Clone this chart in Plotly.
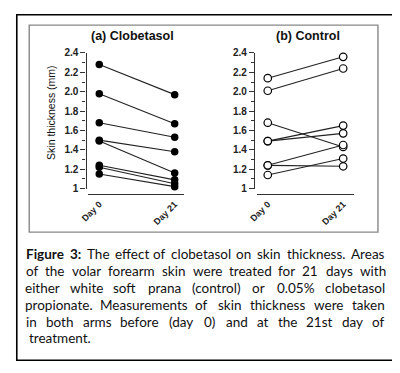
import plotly.graph_objects as go

# ---------------- data ----------------
days = ["Day 0", "Day 21"]
clob_day0 = [2.28, 1.98, 1.68, 1.50, 1.49, 1.24, 1.22, 1.15]
clob_day21 = [1.97, 1.67, 1.53, 1.38, 1.16, 1.09, 1.05, 1.02]
ctrl_day0 = [2.14, 2.01, 1.68, 1.49, 1.49, 1.24, 1.24, 1.14]
ctrl_day21 = [2.36, 2.24, 1.43, 1.65, 1.57, 1.45, 1.23, 1.31]
ytick_vals = [1, 1.2, 1.4, 1.6, 1.8, 2.0, 2.2, 2.4]
ytick_text = ["1", "1.2", "1.4", "1.6", "1.8", "2.0", "2.2", "2.4"]
caption_lines = [
    "<b>Figure</b> <b>3:</b> The effect of clobetasol on skin thickness. Areas",
    "of the volar forearm skin were treated for 21 days with",
    "either white soft prana (control) or 0.05% clobetasol",
    "propionate. Measurements of skin thickness were taken",
    "in both arms before (day 0) and at the 21st day of",
    "treatment.",
]

# the page body adds an 8px margin; work in screen pixels and shift
OFF = 8
W, H = 392, 365
def px(x): return (x - OFF) / W
def py(y): return 1 - (y - OFF) / H

fig = go.Figure()

LINE = "#222222"
for a, b in zip(clob_day0, clob_day21):
    fig.add_trace(go.Scatter(
        x=[0, 1], y=[a, b], mode="lines+markers", xaxis="x", yaxis="y",
        line=dict(color=LINE, width=1.1),
        marker=dict(size=7.5, color="#000000", line=dict(width=0)),
        cliponaxis=False, showlegend=False, hoverinfo="skip"))
for a, b in zip(ctrl_day0, ctrl_day21):
    fig.add_trace(go.Scatter(
        x=[0, 1], y=[a, b], mode="lines+markers", xaxis="x2", yaxis="y2",
        line=dict(color=LINE, width=1.1),
        marker=dict(size=7.5, color="#ffffff", line=dict(width=1.2, color="#000000")),
        cliponaxis=False, showlegend=False, hoverinfo="skip"))

tickfont = dict(family="Liberation Sans, Arial", size=10, color="#222", weight="bold")

def yax(pos):
    return dict(
        domain=[py(188.5), py(48.3)], range=[1, 2.4], anchor="free", position=px(pos),
        tickvals=ytick_vals, ticktext=ytick_text, ticks="outside", ticklen=5,
        tickwidth=1.2, tickcolor="#333", showline=True, linecolor="#333", linewidth=1.4,
        showgrid=False, zeroline=False, tickfont=tickfont,
        minor=dict(tickvals=[1.1, 1.3, 1.5, 1.7, 1.9, 2.1, 2.3], ticks="outside",
                   ticklen=3, tickwidth=1, tickcolor="#333"))

def xax(x0, x1, d0):
    s = 77.0
    return dict(
        domain=[px(x0), px(x1)], range=[(x0 - d0) / s, (x1 - d0) / s],
        anchor="free", position=py(194.5),
        tickvals=[0, 1], ticktext=days, tickangle=-45, ticks="",
        showline=True, linecolor="#333", linewidth=1.4,
        showgrid=False, zeroline=False, tickfont=dict(tickfont, size=9))

fig.update_layout(
    width=W, height=H, margin=dict(l=0, r=0, t=0, b=0),
    paper_bgcolor="white", plot_bgcolor="rgba(0,0,0,0)",
    xaxis=xax(81, 179, 93), yaxis=yax(79),
    xaxis2=xax(254, 353, 265), yaxis2=yax(251),
)

shapes = [
    dict(type="rect", xref="paper", yref="paper", x0=px(8.8), x1=px(393), y0=py(366), y1=py(8.8),
         line=dict(color="#000", width=1.6)),
    dict(type="rect", xref="paper", yref="paper", x0=px(21.5), x1=px(377.5), y0=py(233.5), y1=py(19.5),
         line=dict(color="#888", width=1.4)),
]
fig.update_layout(shapes=shapes)

def A(text, x, y, **kw):
    d = dict(text=text, x=px(x), y=py(y), xref="paper", yref="paper",
             xanchor="center", yanchor="middle", showarrow=False)
    d.update(kw)
    return d

ann = [
    A("<b>(a) Clobetasol</b>", 127, 31, font=dict(family="Liberation Sans, Arial", size=12.5, color="#111")),
    A("<b>(b) Control</b>", 306, 31, font=dict(family="Liberation Sans, Arial", size=12.5, color="#111")),
    A("Skin thickness (mm)", 43, 110, textangle=-90,
      font=dict(family="Liberation Sans Narrow, Liberation Sans, Arial", size=10.5, color="#111")),
]

# approximate glyph widths (per 1000 em) for justification
CW = {" ": 278, "(": 333, ")": 333, "%": 889, ".": 278, ":": 278, ",": 278,
      "a": 556, "b": 556, "c": 500, "d": 556, "e": 556, "f": 278, "g": 556, "h": 556,
      "i": 222, "j": 222, "k": 500, "l": 222, "m": 833, "n": 556, "o": 556, "p": 556,
      "q": 556, "r": 333, "s": 500, "t": 278, "u": 556, "v": 500, "w": 722, "x": 500,
      "y": 500, "z": 500, "A": 667, "F": 611, "M": 833, "T": 611}
FS = 13.5
def wwidth(w):
    plain = w.replace("<b>", "").replace("</b>", "")
    return sum(CW.get(c, 556) for c in plain) / 1000 * FS * 0.97

L, R = 19, 384
ys = [256, 273.5, 291, 308.5, 326, 343.5]
cfont = dict(family="Lato, Open Sans", size=FS, color="#111")
for i, (t, yy) in enumerate(zip(caption_lines, ys)):
    words = t.split(" ")
    if i == len(caption_lines) - 1:
        ann.append(A(t, L, yy, xanchor="left", font=cfont))
        continue
    ws = [wwidth(w) for w in words]
    gap = (R - L - sum(ws)) / (len(words) - 1)
    cur = L
    for w, wd in zip(words, ws):
        ann.append(A(w, cur + wd / 2, yy, font=cfont))
        cur += wd + gap
fig.update_layout(annotations=ann)

fig.write_html("out.html", config={"displayModeBar": False})
